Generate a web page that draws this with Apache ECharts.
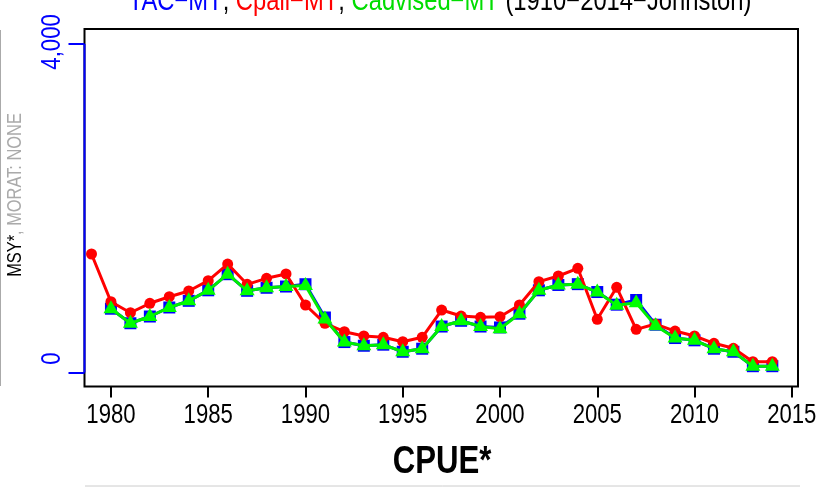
<!DOCTYPE html>
<html><head><meta charset="utf-8">
<script src="https://cdn.jsdelivr.net/npm/echarts@6/dist/echarts.min.js"></script>
<style>html,body{margin:0;padding:0;background:#fff}#c{width:833px;height:487px}</style>
</head><body><div id="c"></div>
<script>
const years = [1979,1980,1981,1982,1983,1984,1985,1986,1987,1988,1989,1990,1991,1992,1993,1994,1995,1996,1997,1998,1999,2000,2001,2002,2003,2004,2005,2006,2007,2008,2009,2010,2011,2012,2013,2014];
const cpail = [1443,862,728,843,923,993,1118,1321,1074,1147,1200,822,599,497,445,429,375,429,761,688,672,680,822,1106,1175,1269,648,1038,526,590,505,445,356,295,132,132];
const tacYears = years.slice(1);
const tac = [777,600,682,792,873,1001,1197,995,1032,1047,1075,670,371,326,339,253,290,560,630,560,549,716,1001,1066,1076,980,826,883,582,420,392,290,253,77,77];
const cadvised = [777,600,682,792,873,1001,1197,995,1032,1047,1060,651,371,326,339,253,290,560,630,560,533,716,1001,1066,1076,980,818,849,570,420,392,290,253,77,77];
const xTicks = [1980,1985,1990,1995,2000,2005,2010,2015];
const xTickLabels = ['1980','1985','1990','1995','2000','2005','2010','2015'];
const yTicks = [0,4000];
const yTickLabels = ['0','4,000'];

const FONT = "'Liberation Sans',Arial,sans-serif";
const NARROW = 0.82;
const chart = echarts.init(document.getElementById('c'), null, {renderer:'canvas'});
const pairs = (xs, vs) => vs.map((v, i) => [xs[i], v]);
const XMIN = 1978.64, XMAX = 2015.32;

chart.setOption({
  animation: false,
  grid: {left: 84.5, right: 35, top: 29, bottom: 100.5, show: true, borderColor: '#000', borderWidth: 2},
  xAxis: {type: 'value', min: XMIN, max: XMAX,
    axisLine: {show: false, onZero: false}, splitLine: {show: false},
    axisTick: {show: true, customValues: xTicks, length: 11, lineStyle: {color: '#000', width: 2}},
    axisLabel: {show: false}},
  yAxis: {type: 'value', min: -170, max: 4182,
    axisLine: {show: false, onZero: false}, splitLine: {show: false},
    axisTick: {show: true, customValues: yTicks, length: 16, lineStyle: {color: '#00f', width: 2}},
    axisLabel: {show: false}},
  series: [
    {name: 'TAC-MT', type: 'line', data: pairs(tacYears, tac), symbol: 'rect', symbolSize: 12,
      itemStyle: {color: '#0000ff'}, lineStyle: {color: '#0000ff', width: 3}, z: 2},
    {name: 'Cpail-MT', type: 'line', data: pairs(years, cpail), symbol: 'circle', symbolSize: 11,
      itemStyle: {color: '#ff0000'}, lineStyle: {color: '#ff0000', width: 3}, z: 3},
    {name: 'Cadvised-MT', type: 'line', data: pairs(tacYears, cadvised), symbol: 'triangle', symbolSize: [15, 13], symbolOffset: [0, -2],
      itemStyle: {color: '#00ff00'}, lineStyle: {color: '#00ee00', width: 3}, z: 4}
  ]
});

const toPx = (x, y) => chart.convertToPixel({gridIndex: 0}, [x, y]);
const axX = toPx(XMIN, 0)[0];
const yPix = yTicks.map(v => toPx(XMIN, v)[1]);
const yLabOffsets = [-14, -2];
const graphics = [
  {type: 'line', shape: {x1: axX, y1: yPix[0], x2: axX, y2: yPix[1]}, style: {stroke: '#0000ff', lineWidth: 2}, z: 10},
  {type: 'line', shape: {x1: 0.5, y1: 30, x2: 0.5, y2: 386}, style: {stroke: '#aaaaaa', lineWidth: 1}},
  {type: 'line', shape: {x1: 85, y1: 486, x2: 800, y2: 486}, style: {stroke: '#cccccc', lineWidth: 1}},
  {type: 'text', x: 440, y: 2, scaleX: NARROW, style: {
    text: '{b|TAC−MT}{k|, }{r|Cpail−MT}{k|, }{g|Cadvised−MT}{k| (1910−2014−Johnston)}',
    align: 'center', verticalAlign: 'middle', font: '29px ' + FONT,
    rich: {b: {fill: '#0000ff', fontSize: 29, fontFamily: FONT}, k: {fill: '#000', fontSize: 29, fontFamily: FONT},
      r: {fill: '#ff0000', fontSize: 29, fontFamily: FONT}, g: {fill: '#00dd00', fontSize: 29, fontFamily: FONT}}}},
  {type: 'text', x: 442, y: 463, scaleX: NARROW, style: {text: 'CPUE*', align: 'center', verticalAlign: 'middle',
    font: 'bold 38px ' + FONT, fill: '#000'}},
  {type: 'text', x: 15.5, y: 195, rotation: Math.PI / 2, scaleX: NARROW, style: {
    text: '{k|MSY*}{g|, MORAT: NONE}', align: 'center', verticalAlign: 'middle', font: '20px ' + FONT,
    rich: {k: {fill: '#000', fontSize: 20, fontFamily: FONT}, g: {fill: '#aaaaaa', fontSize: 20, fontFamily: FONT}}}}
];
yTicks.forEach((v, i) => {
  graphics.push({type: 'text', x: 53, y: yPix[i] + yLabOffsets[i], rotation: Math.PI / 2, scaleX: NARROW,
    style: {text: yTickLabels[i], align: 'center', verticalAlign: 'middle', font: '27px ' + FONT, fill: '#0000ff'}});
});
xTicks.forEach((v, i) => {
  graphics.push({type: 'text', x: toPx(v, 0)[0], y: 416, scaleX: NARROW,
    style: {text: xTickLabels[i], align: 'center', verticalAlign: 'middle', font: '27px ' + FONT, fill: '#000'}});
});
chart.setOption({graphic: graphics});
</script></body></html>
